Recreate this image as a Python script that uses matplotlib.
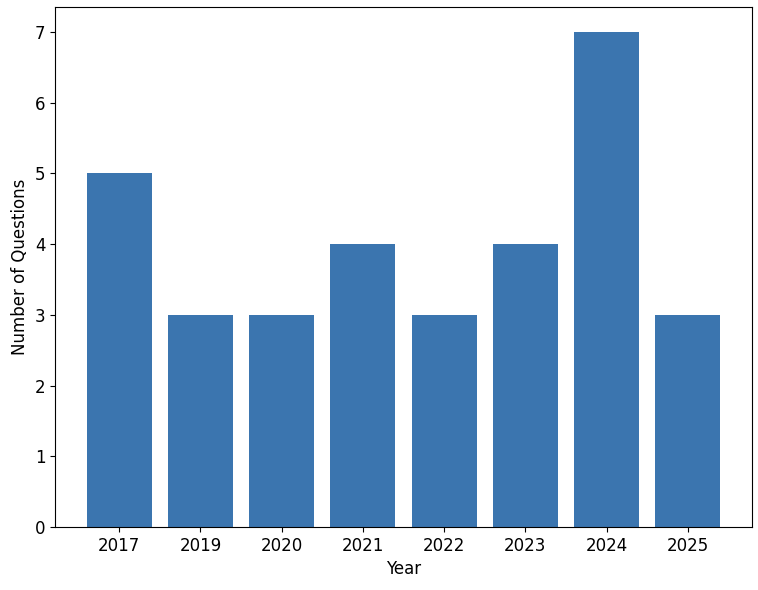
import matplotlib.pyplot as plt

years = ["2017", "2019", "2020", "2021", "2022", "2023", "2024", "2025"]
counts = [5, 3, 3, 4, 3, 4, 7, 3]

fig = plt.figure(figsize=(7.58, 5.9), dpi=100)
ax = fig.add_axes([55 / 758, 63 / 590, 697 / 758, 520 / 590])
ax.bar(years, counts, color="#3b75af")
ax.set_xlabel("Year", fontsize=12)
ax.set_ylabel("Number of Questions", fontsize=12)
ax.tick_params(labelsize=12)
fig.savefig("out.png", dpi=100)
